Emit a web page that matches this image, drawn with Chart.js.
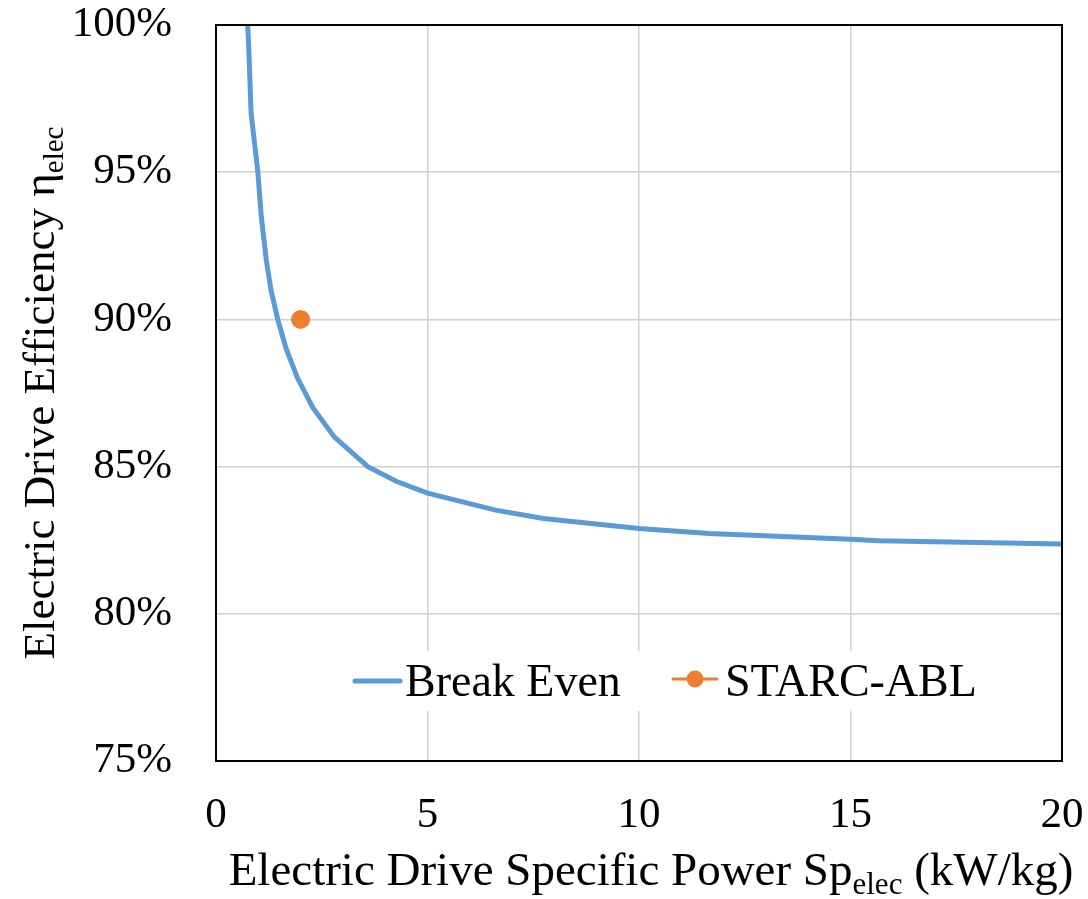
<!DOCTYPE html>
<html>
<head>
<meta charset="utf-8">
<script src="https://cdn.jsdelivr.net/npm/chart.js@4.4.1/dist/chart.umd.min.js"></script>
<style>
  html, body { margin: 0; padding: 0; background: #fff; }
</style>
</head>
<body>
<canvas id="chart" width="1088" height="899"></canvas>
<script>
// break even curve
var specificPower = [0.75, 0.78, 0.83, 0.91, 0.99, 1.07, 1.19, 1.30, 1.46, 1.66, 1.93, 2.29, 2.80, 3.59, 4.26, 5.00, 6.61, 7.74, 10.0, 11.66, 15.0, 15.67, 20.0];
var breakEven = [100, 99, 97, 96, 95, 93.5, 92, 91, 90, 89, 88, 87, 86, 85, 84.5, 84.1, 83.52, 83.24, 82.9, 82.73, 82.53, 82.48, 82.37];
// design point
var starcPower = [2.0];
var starcEff = [90];

var xRange = [0, 20];
var yRange = [75, 100];

var FONT = "'Liberation Serif', 'Times New Roman', serif";
var BLUE = '#5B9BD5';
var ORANGE = '#ED7D31';

function points(xs, ys) {
  var out = [];
  for (var i = 0; i < xs.length; i++) out.push({ x: xs[i], y: ys[i] });
  return out;
}

// text with a subscript part
function subText(ctx, main, sub, tail, size) {
  ctx.font = size + 'px ' + FONT;
  var w1 = ctx.measureText(main).width;
  var w3 = ctx.measureText(tail).width;
  ctx.font = Math.round(size * 0.65) + 'px ' + FONT;
  var w2 = ctx.measureText(sub).width;
  return { w1: w1, w2: w2, w3: w3, total: w1 + w2 + w3 };
}
function drawSub(ctx, main, sub, tail, size, x, y) {
  var m = subText(ctx, main, sub, tail, size);
  ctx.textAlign = 'left';
  ctx.textBaseline = 'alphabetic';
  ctx.font = size + 'px ' + FONT;
  ctx.fillText(main, x, y);
  ctx.font = Math.round(size * 0.65) + 'px ' + FONT;
  ctx.fillText(sub, x + m.w1, y + size * 0.2);
  ctx.font = size + 'px ' + FONT;
  ctx.fillText(tail, x + m.w1 + m.w2, y);
}

var decorations = {
  id: 'decorations',
  afterDraw: function(chart) {
    var ctx = chart.ctx, a = chart.chartArea;
    ctx.save();
    ctx.fillStyle = '#000';

    // legend, inside the plot
    var ly = a.bottom - 80;
    ctx.fillStyle = '#fff';
    ctx.fillRect(340, ly - 30, 660, 60);
    var ds = chart.data.datasets;
    ctx.lineCap = 'round';
    ctx.strokeStyle = ds[0].borderColor;
    ctx.lineWidth = 5;
    ctx.beginPath(); ctx.moveTo(355, ly); ctx.lineTo(400, ly); ctx.stroke();
    ctx.strokeStyle = ds[1].borderColor;
    ctx.lineWidth = 3;
    ctx.beginPath(); ctx.moveTo(673, ly - 2); ctx.lineTo(717, ly - 2); ctx.stroke();
    ctx.fillStyle = ds[1].backgroundColor;
    ctx.beginPath(); ctx.arc(695, ly - 2, 8.5, 0, Math.PI * 2); ctx.fill();
    ctx.fillStyle = '#000';
    ctx.font = '46px ' + FONT;
    ctx.textAlign = 'left';
    ctx.textBaseline = 'alphabetic';
    ctx.fillText(ds[0].label, 405, ly + 15);
    ctx.fillText(ds[1].label, 725, ly + 15);

    // plot frame
    ctx.strokeStyle = '#000';
    ctx.lineWidth = 2;
    ctx.lineCap = 'butt';
    ctx.strokeRect(a.left, a.top, a.right - a.left, a.bottom - a.top);

    // x axis title
    var m = subText(ctx, 'Electric Drive Specific Power Sp', 'elec', ' (kW/kg)', 47);
    var cx = (a.left + a.right) / 2 + 12;
    drawSub(ctx, 'Electric Drive Specific Power Sp', 'elec', ' (kW/kg)', 47, cx - m.total / 2, 885);

    // y axis title, rotated
    var my = subText(ctx, 'Electric Drive Efficiency \u03B7', 'elec', '', 45);
    ctx.translate(54, (a.top + a.bottom) / 2);
    ctx.rotate(-Math.PI / 2);
    drawSub(ctx, 'Electric Drive Efficiency \u03B7', 'elec', '', 45, -my.total / 2, 0);
    ctx.restore();
  }
};

var ctx = document.getElementById('chart');
var chart = new Chart(ctx, {
  type: 'scatter',
  data: {
    datasets: [{
      label: 'Break Even',
      data: points(specificPower, breakEven),
      showLine: true,
      borderColor: BLUE,
      backgroundColor: BLUE,
      borderWidth: 5,
      pointRadius: 0,
      tension: 0,
      order: 2
    }, {
      label: 'STARC-ABL',
      data: points(starcPower, starcEff),
      borderColor: ORANGE,
      backgroundColor: ORANGE,
      pointRadius: 9.5,
      pointBorderWidth: 0,
      order: 1
    }]
  },
  plugins: [decorations],
  options: {
    responsive: false,
    animation: false,
    layout: { padding: { top: 25, right: 26, left: 0, bottom: 0 } },
    plugins: {
      legend: { display: false },
      tooltip: { enabled: false }
    },
    scales: {
      x: {
        type: 'linear',
        min: xRange[0],
        max: xRange[1],
        afterFit: function(scale) {
          scale.height = 138;
          scale.paddingLeft = 0;
          scale.paddingRight = 0;
        },
        ticks: {
          stepSize: 5,
          padding: 29,
          color: '#000',
          font: { family: FONT, size: 43 }
        },
        grid: { color: '#D0D0D0', lineWidth: 1.5, drawTicks: false },
        border: { display: false }
      },
      y: {
        type: 'linear',
        min: yRange[0],
        max: yRange[1],
        afterFit: function(scale) {
          scale.width = 216;
          scale.paddingTop = 0;
          scale.paddingBottom = 0;
        },
        ticks: {
          stepSize: 5,
          padding: 44,
          color: '#000',
          font: { family: FONT, size: 43 },
          callback: function(v) { return v + '%'; }
        },
        grid: { color: '#D0D0D0', lineWidth: 1.5, drawTicks: false },
        border: { display: false }
      }
    }
  }
});
</script>
</body>
</html>
